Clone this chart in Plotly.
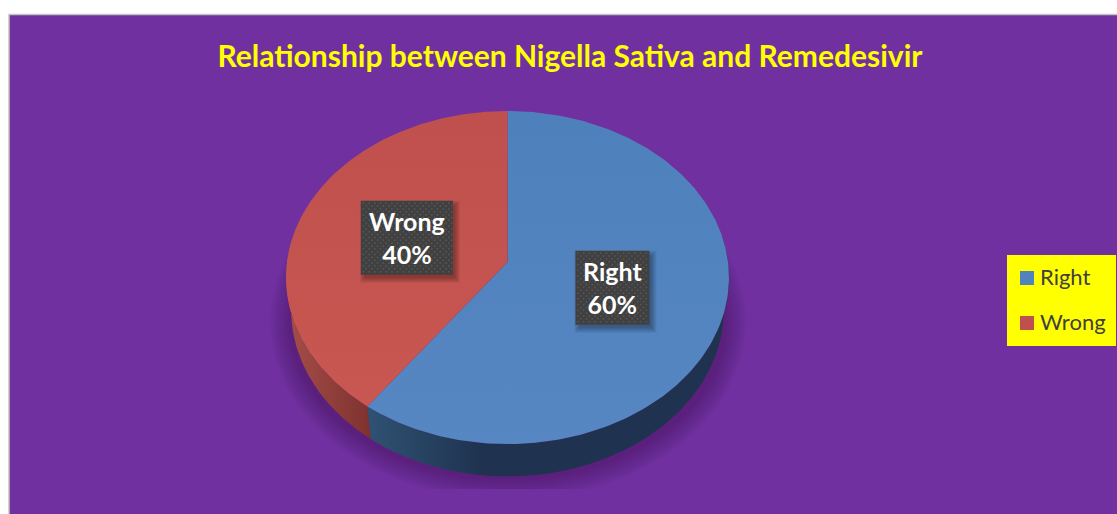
import numpy as np
import plotly.graph_objects as go

# Chart content
title_text = "Relationship between Nigella Sativa and Remedesivir"
categories = ["Right", "Wrong"]
values = [60, 40]
legend_colors = ["#5082BE", "#C0504D"]
top_stops = [["#4E80BC", "#5687C2"], ["#BF504D", "#CA5852"]]
side_stops = [["#2F5273", "#1F3350"], ["#A34C47", "#7E322F"]]

# Perspective disc: pixel-based axes, centre of the pie and its tilt
W, H = 1117, 514
CX, CY = 507.5, 262.0
A, B, K = 220.5, 165.06, 0.0931
DEPTH = 32.5
BOTTOM_SCALE = 0.977
BG = "#7030A0"


def project(theta, r=1.0, depth=0.0, scale=1.0):
    u, v = r * np.sin(theta), -r * np.cos(theta)
    d = 1 - K * v
    return CX + scale * A * u / d, CY + depth + B * v / d


def polygon(x, y, fill, **kw):
    return go.Scatter(x=np.asarray(x), y=np.asarray(y), mode="lines", fill="toself",
                      fillcolor=fill, line=dict(width=0), showlegend=False,
                      hoverinfo="skip", **kw)


def rect(x0, y0, x1, y1, fill):
    return polygon([x0, x1, x1, x0, x0], [y0, y0, y1, y1, y0], fill)


fig = go.Figure()

# Soft ground shadow, stacked translucent ellipses cut off by a flat lower edge
t = np.linspace(0, 2 * np.pi, 240)
for i in range(16):
    f = i / 15
    rx, ry = 238 - 20 * f, 178 - 20 * f
    sx = 508 + rx * np.cos(t)
    sy = np.minimum(322 + ry * np.sin(t), 489)
    fig.add_trace(polygon(sx, sy, "rgba(30,10,50,0.021)"))

# Slice angles follow the values, clockwise from twelve o'clock
fractions = np.array(values) / sum(values)
edges = np.concatenate([[0], np.cumsum(fractions)]) * 2 * np.pi

# Side walls: only the front half of the disc is visible
wall_spans = [(np.pi / 2 - 0.15, edges[1]), (edges[1], 3 * np.pi / 2 + 0.15)]
wall_grad = [(368, 480), (292, 370)]
for (a0, a1), (g0, g1), stops in zip(wall_spans, wall_grad, side_stops):
    th = np.linspace(a0, a1, 120)
    x1, y1 = project(th)
    x2, y2 = project(th[::-1], depth=DEPTH, scale=BOTTOM_SCALE)
    fig.add_trace(go.Scatter(
        x=np.concatenate([x1, x2]), y=np.concatenate([y1, y2]), mode="lines",
        fill="toself", line=dict(width=0), showlegend=False, hoverinfo="skip",
        fillgradient=dict(type="horizontal", start=g0, stop=g1,
                          colorscale=[[0, stops[0]], [1, stops[1]]]),
    ))

# Top faces of the slices, very slightly lighter towards the front
for i, name in enumerate(categories):
    th = np.linspace(edges[i], edges[i + 1], 240)
    x, y = project(th)
    fig.add_trace(go.Scatter(
        x=np.concatenate([[CX], x, [CX]]), y=np.concatenate([[CY], y, [CY]]),
        mode="lines", fill="toself", line=dict(width=0), name=name,
        showlegend=False, hoverinfo="skip",
        fillgradient=dict(type="vertical", start=111, stop=444,
                          colorscale=[[0, top_stops[i][0]], [1, top_stops[i][1]]]),
    ))

# Data label boxes sit about halfway along each slice's middle angle
annotations = []
box_half = [(37, 37), (46, 37)]
mids = (edges[:-1] + edges[1:]) / 2
for i, name in enumerate(categories):
    lx, ly = project(mids[i], r=0.49)
    lx += 0.7
    ly += 0.4
    hw, hh = box_half[i]
    for s in range(6):
        g = 4 - s
        fig.add_trace(rect(lx - hw + 3 - g, ly - hh + 4 - g,
                           lx + hw + 3 + g, ly + hh + 4 + g, "rgba(0,0,0,0.055)"))
    fig.add_trace(rect(lx - hw, ly - hh, lx + hw, ly + hh, "#404040"))
    # Dotted texture of the label background
    px, py = [], []
    for r, yy in enumerate(np.arange(ly - hh + 2.5, ly + hh - 1, 2.85)):
        off = 0 if r % 2 == 0 else 2.85
        for xx in np.arange(lx - hw + 2.5 + off, lx + hw - 1, 5.7):
            px.append(xx)
            py.append(yy)
    fig.add_trace(go.Scatter(x=px, y=py, mode="markers", showlegend=False, hoverinfo="skip",
                             marker=dict(size=2, color="#545454", line=dict(width=0))))
    annotations.append(dict(
        x=lx, y=ly, xref="x", yref="y", showarrow=False,
        text=f"{name}<br>{values[i]}%",
        font=dict(family="Lato", size=25, color="white", weight="bold"),
    ))

# Key on a yellow panel at the right edge
fig.add_trace(rect(1007, 255, 1116, 346, "#FFFF00"))
legend_rows = [278, 323]
for name, color, row in zip(categories, legend_colors, legend_rows):
    fig.add_trace(go.Scatter(
        x=[1027], y=[row], mode="markers", showlegend=False, hoverinfo="skip",
        marker=dict(symbol="square", size=14, color=color, line=dict(width=0)),
    ))
    fig.add_trace(go.Scatter(
        x=[1040], y=[row + 1], mode="text", text=[name], textposition="middle right",
        textfont=dict(family="Lato", size=22, color="#404040"),
        showlegend=False, hoverinfo="skip",
    ))

fig.update_layout(
    width=W, height=H, autosize=False,
    margin=dict(l=0, r=0, t=0, b=0),
    paper_bgcolor="white", plot_bgcolor="white",
    xaxis=dict(range=[0, W], visible=False, fixedrange=True),
    yaxis=dict(range=[H, 0], visible=False, fixedrange=True),
    # Chart area with its thin grey outline
    shapes=[dict(type="rect", xref="x", yref="y", x0=9, y0=14.5, x1=W + 5, y1=H + 5,
                 fillcolor=BG, line=dict(color="#C4C4C4", width=1.5), layer="below")],
    title=dict(text=title_text, x=570 / W, y=1 - 56 / H, xanchor="center", yanchor="middle",
               font=dict(family="Lato", size=30, color="#FFFF00", weight="bold")),
    showlegend=False,
    annotations=annotations,
    hovermode=False,
)
fig.write_html("out.html", config=dict(displayModeBar=False))
